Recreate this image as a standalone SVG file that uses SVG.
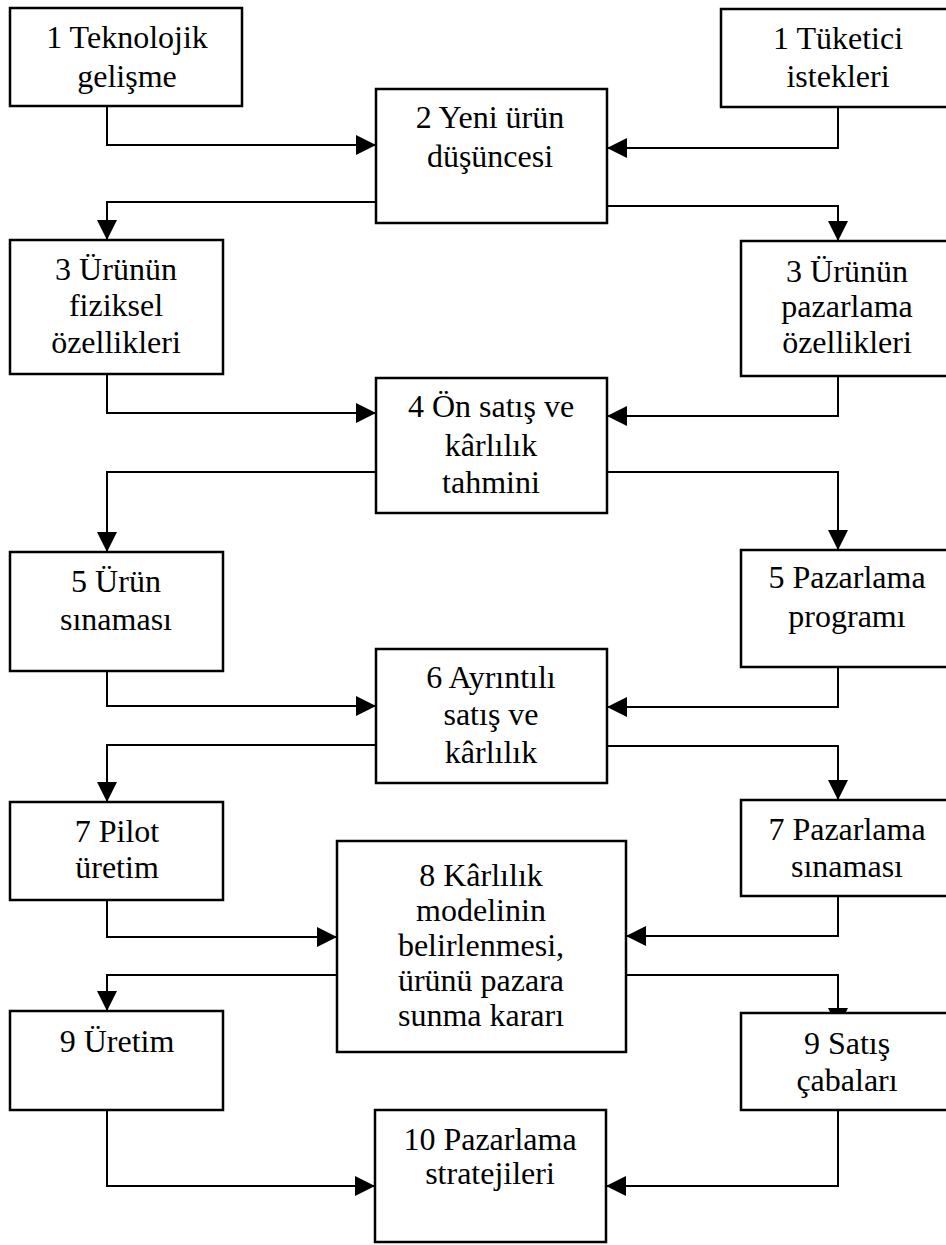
<svg xmlns="http://www.w3.org/2000/svg" width="946" height="1245" viewBox="0 0 946 1245">
<style>
.box{fill:#fff;stroke:#000;stroke-width:2.5}
.t{font-family:"Liberation Serif","Times New Roman",serif;font-size:32px;fill:#000;text-anchor:middle}
.c{fill:none;stroke:#000;stroke-width:2;marker-end:url(#ah)}
</style>
<defs>
<marker id="ah" markerUnits="userSpaceOnUse" markerWidth="20" markerHeight="20" refX="20" refY="10" orient="auto" viewBox="0 0 20 20">
<path d="M0,0 L20,10 L0,20 Z" fill="#000"/>
</marker>
</defs>
<g id="connectors">
<polyline class="c" points="107,106 107,145 376,145"/>
<polyline class="c" points="838,107 838,148 607,148"/>
<polyline class="c" points="376,202 107,202 107,240"/>
<polyline class="c" points="607,206 838,206 838,241"/>
<polyline class="c" points="107,374 107,413 376,413"/>
<polyline class="c" points="838,376 838,416 607,416"/>
<polyline class="c" points="376,472 107,472 107,552"/>
<polyline class="c" points="607,472 838,472 838,550"/>
<polyline class="c" points="107,671 107,706 376,706"/>
<polyline class="c" points="838,667 838,707 607,707"/>
<polyline class="c" points="376,745 107,745 107,802"/>
<polyline class="c" points="607,746 838,746 838,800"/>
<polyline class="c" points="107,900 107,937 337,937"/>
<polyline class="c" points="838,896 838,936 626,936"/>
<polyline class="c" points="337,975 107,975 107,1011"/>
<polyline class="c" points="626,975 838,975 838,1028"/>
<polyline class="c" points="107,1110 107,1186 375,1186"/>
<polyline class="c" points="838,1110 838,1186 606,1186"/>
</g>
<g id="n1a"><rect class="box" x="10" y="8" width="232" height="98"/>
<text class="t" x="127" y="48">1 Teknolojik</text><text class="t" x="127" y="87">gelişme</text></g>
<g id="n1b"><rect class="box" x="721" y="9" width="240" height="98"/>
<text class="t" x="838" y="49">1 Tüketici</text><text class="t" x="838" y="87">istekleri</text></g>
<g id="n2"><rect class="box" x="376" y="89" width="231" height="134"/>
<text class="t" x="490" y="128">2 Yeni ürün</text><text class="t" x="490" y="167">düşüncesi</text></g>
<g id="n3a"><rect class="box" x="10" y="240" width="213" height="134"/>
<text class="t" x="116" y="280">3 Ürünün</text><text class="t" x="116" y="316">fiziksel</text><text class="t" x="116" y="353">özellikleri</text></g>
<g id="n3b"><rect class="box" x="741" y="241" width="220" height="135"/>
<text class="t" x="847" y="282">3 Ürünün</text><text class="t" x="847" y="317">pazarlama</text><text class="t" x="847" y="353">özellikleri</text></g>
<g id="n4"><rect class="box" x="376" y="378" width="231" height="135"/>
<text class="t" x="491" y="417">4 Ön satış ve</text><text class="t" x="491" y="456">kârlılık</text><text class="t" x="491" y="493">tahmini</text></g>
<g id="n5a"><rect class="box" x="10" y="552" width="213" height="119"/>
<text class="t" x="116" y="592">5 Ürün</text><text class="t" x="116" y="630">sınaması</text></g>
<g id="n5b"><rect class="box" x="741" y="550" width="220" height="117"/>
<text class="t" x="847" y="588">5 Pazarlama</text><text class="t" x="847" y="627">programı</text></g>
<g id="n6"><rect class="box" x="376" y="649" width="231" height="134"/>
<text class="t" x="491" y="688">6 Ayrıntılı</text><text class="t" x="491" y="725">satış ve</text><text class="t" x="491" y="763">kârlılık</text></g>
<g id="n7a"><rect class="box" x="10" y="802" width="213" height="98"/>
<text class="t" x="117" y="842">7 Pilot</text><text class="t" x="117" y="878">üretim</text></g>
<g id="n7b"><rect class="box" x="741" y="800" width="220" height="96"/>
<text class="t" x="847" y="840">7 Pazarlama</text><text class="t" x="847" y="877">sınaması</text></g>
<g id="n8"><rect class="box" x="337" y="841" width="289" height="211"/>
<text class="t" x="481" y="886">8 Kârlılık</text><text class="t" x="481" y="921">modelinin</text><text class="t" x="481" y="956">belirlenmesi,</text><text class="t" x="481" y="991">ürünü pazara</text><text class="t" x="481" y="1026">sunma kararı</text></g>
<g id="n9a"><rect class="box" x="10" y="1011" width="213" height="99"/>
<text class="t" x="117" y="1052">9 Üretim</text></g>
<g id="n9b"><rect class="box" x="741" y="1013" width="220" height="97"/>
<text class="t" x="847" y="1054">9 Satış</text><text class="t" x="847" y="1091">çabaları</text></g>
<g id="n10"><rect class="box" x="375" y="1110" width="231" height="132"/>
<text class="t" x="490" y="1150">10 Pazarlama</text><text class="t" x="490" y="1184">stratejileri</text></g>
</svg>
